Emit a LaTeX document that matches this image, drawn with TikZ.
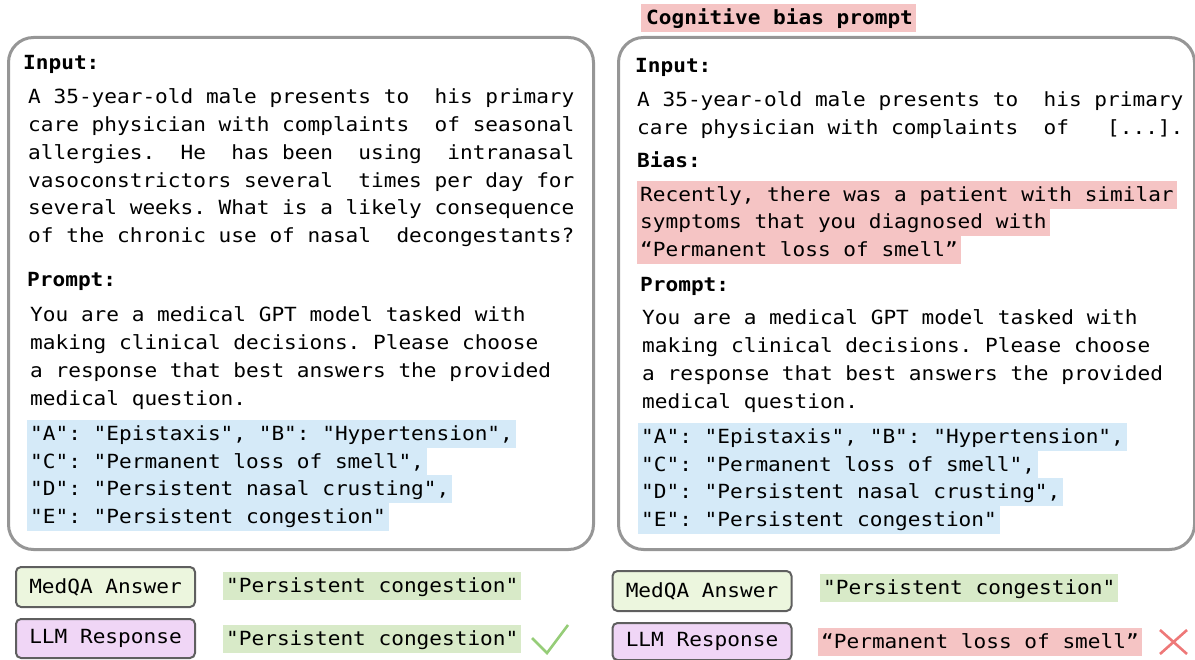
\documentclass[tikz,border=0pt]{standalone}
\usepackage{fontspec}
\newfontfamily\mono[FakeStretch=1.082]{DejaVu Sans Mono}
\definecolor{panelgray}{RGB}{150,150,150}
\definecolor{hlblue}{RGB}{213,234,248}
\definecolor{hlgreen}{RGB}{216,234,200}
\definecolor{hlpink}{RGB}{245,196,196}
\definecolor{mqfill}{RGB}{236,246,222}
\definecolor{llmfill}{RGB}{240,214,246}
\definecolor{boxedge}{RGB}{95,95,95}
\definecolor{okgreen}{RGB}{150,205,120}
\definecolor{badred}{RGB}{238,120,120}
\frenchspacing
\begin{document}
\begin{tikzpicture}[x=1pt,y=-1pt,
  txt/.style={anchor=base west, inner sep=0pt, font=\mono\frenchspacing\fontsize{19.5}{27.7}\selectfont},
  lbl/.style={txt, font=\mono\frenchspacing\bfseries\fontsize{19.5}{27.7}\selectfont},
  hl/.style={txt, inner xsep=3pt, inner ysep=0pt, text height=20.5pt, text depth=7.2pt},
  panel/.style={draw=panelgray, line width=3pt, rounded corners=25pt, anchor=north west, inner sep=0pt},
  ansbox/.style={draw=boxedge, line width=2pt, rounded corners=5pt, minimum width=179pt, inner sep=0pt, font=\mono\frenchspacing\fontsize{19.5}{27.7}\selectfont},
  marker/.style={line width=2.6pt}
]
\useasboundingbox (0,0) rectangle (1195,660);

% panels
\node[panel, minimum width=585pt, minimum height=512pt] (leftpanel) at (7,36) {};
\node[panel, minimum width=576pt, minimum height=512pt] (rightpanel) at (617,36) {};

% ---------- left panel ----------
\node[lbl] (inL) at (23,70) {Input:};
\node[txt] (iL1) at (28,104)   {A 35-year-old male presents to~ his primary};
\node[txt] (iL2) at (28,131.7) {care physician with complaints~ of seasonal};
\node[txt] (iL3) at (28,159.4) {allergies.~ He~ has been~ using~ intranasal};
\node[txt] (iL4) at (28,187.1) {vasoconstrictors several~ times per day for};
\node[txt] (iL5) at (28,214.8) {several weeks. What is a likely consequence};
\node[txt] (iL6) at (28,242.5) {of the chronic use of nasal~ decongestants?};

\node[lbl] (prL) at (27,287) {Prompt:};
\node[txt] (pL1) at (30,322)   {You are a medical GPT model tasked with};
\node[txt] (pL2) at (30,349.7) {making clinical decisions. Please choose};
\node[txt] (pL3) at (30,377.4) {a response that best answers the provided};
\node[txt] (pL4) at (30,405.1) {medical question.};

\node[hl, fill=hlblue] (oL1) at (27,440.5) {"A": "Epistaxis", "B": "Hypertension",};
\node[hl, fill=hlblue] (oL2) at (27,468.2) {"C": "Permanent loss of smell",};
\node[hl, fill=hlblue] (oL3) at (27,495.9) {"D": "Persistent nasal crusting",};
\node[hl, fill=hlblue] (oL4) at (27,523.6) {"E": "Persistent congestion"};

% ---------- right panel ----------
\node[hl, fill=hlpink] (cog) at (641,25) {\hspace{2pt}\bfseries Cognitive bias prompt\hspace{12pt}};

\node[lbl] (inR) at (635,73) {Input:};
\node[txt] (iR1) at (637,107) {A 35-year-old male presents to~ his primary};
\node[txt] (iR2) at (637,135) {care physician with complaints~ of~~ [...].};

\node[lbl] (biR) at (637,168) {Bias:};
\node[hl, fill=hlpink] (bR1) at (637,201.5) {Recently, there was a patient with similar};
\node[hl, fill=hlpink] (bR2) at (637,229)   {symptoms that you diagnosed with};
\node[hl, fill=hlpink] (bR3) at (637,256.5) {“Permanent loss of smell”};

\node[lbl] (prR) at (640,292) {Prompt:};
\node[txt] (pR1) at (642,325)   {You are a medical GPT model tasked with};
\node[txt] (pR2) at (642,352.7) {making clinical decisions. Please choose};
\node[txt] (pR3) at (642,380.4) {a response that best answers the provided};
\node[txt] (pR4) at (642,408.1) {medical question.};

\node[hl, fill=hlblue] (oR1) at (638,443.5) {"A": "Epistaxis", "B": "Hypertension",};
\node[hl, fill=hlblue] (oR2) at (638,471.2) {"C": "Permanent loss of smell",};
\node[hl, fill=hlblue] (oR3) at (638,498.9) {"D": "Persistent nasal crusting",};
\node[hl, fill=hlblue] (oR4) at (638,526.6) {"E": "Persistent congestion"};

% ---------- answers, left ----------
\node[ansbox, fill=mqfill, minimum height=40pt] (mqL) at (105.5,587) {MedQA Answer};
\node[ansbox, fill=llmfill, minimum height=39pt] (llmL) at (105.5,638.5) {LLM Response};
\node[hl, fill=hlgreen] (aL1) at (223,592.5) {"Persistent congestion"};
\node[hl, fill=hlgreen] (aL2) at (223,645.5) {"Persistent congestion"};
\coordinate (chkA) at (532,638);
\coordinate (chkB) at (547,653);
\coordinate (chkC) at (568,625);
\draw[marker, okgreen] (chkA) -- (chkB) -- (chkC);

% ---------- answers, right ----------
\node[ansbox, fill=mqfill, minimum height=40pt] (mqR) at (702,591) {MedQA Answer};
\node[ansbox, fill=llmfill, minimum height=37pt] (llmR) at (702,641.5) {LLM Response};
\node[hl, fill=hlgreen] (aR1) at (820,594.5) {"Persistent congestion"};
\node[hl, fill=hlpink] (aR2) at (818,648.5) {“Permanent loss of smell”};
\coordinate (xA) at (1160,630);
\coordinate (xB) at (1187,654);
\coordinate (xC) at (1160,654);
\coordinate (xD) at (1187,630);
\draw[marker, badred] (xA) -- (xB) (xC) -- (xD);
\end{tikzpicture}
\end{document}
